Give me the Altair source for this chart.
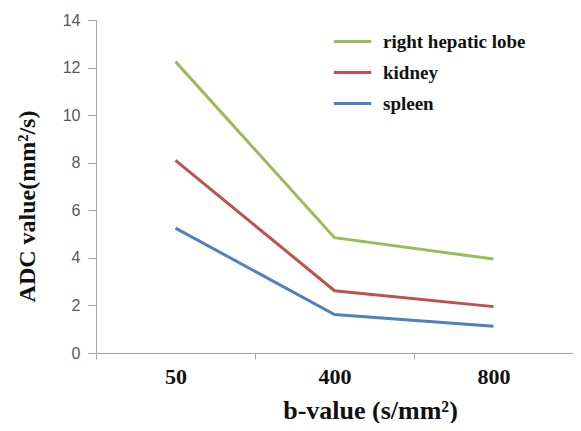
import altair as alt
import pandas as pd

b_values = ["50", "400", "800"]
series_names = ["right hepatic lobe", "kidney", "spleen"]
hepatic = [12.25, 4.85, 3.95]
kidney = [8.1, 2.62, 1.95]
spleen = [5.25, 1.62, 1.12]
colors = ["#9BBB59", "#C0504D", "#4F81BD"]

rows = []
for name, vals in zip(series_names, [hepatic, kidney, spleen]):
    for b, v in zip(b_values, vals):
        rows.append({"b": b, "adc": v, "tissue": name})
df = pd.DataFrame(rows)

chart = alt.Chart(df).mark_line(strokeWidth=3).encode(
    x=alt.X("b:N", sort=b_values,
            scale=alt.Scale(type="band", paddingInner=0, paddingOuter=0),
            axis=alt.Axis(title="b-value (s/mm²)", labelAngle=0, tickBand="extent",
                          labelFont="Liberation Serif", labelFontWeight="bold",
                          labelFontSize=22, labelColor="#111111", labelPadding=7,
                          titleFont="Liberation Serif", titleFontWeight="bold",
                          titleFontSize=26, titleColor="#111111",
                          titleX=274, titleY=57, titleAlign="center",
                          titleBaseline="middle",
                          domainColor="#A6A6A6", tickColor="#A6A6A6",
                          tickSize=6, grid=False)),
    y=alt.Y("adc:Q", scale=alt.Scale(domain=[0, 14], nice=False),
            axis=alt.Axis(title="ADC value(mm²/s)", values=list(range(0, 15, 2)),
                          labelFont="Liberation Sans", labelFontSize=16,
                          labelColor="#595959", labelPadding=8,
                          titleFont="Liberation Serif", titleFontWeight="bold",
                          titleFontSize=24, titleColor="#111111",
                          titleAngle=-90, titleX=-69, titleY=186,
                          titleAlign="center", titleBaseline="middle",
                          domainColor="#A6A6A6", tickColor="#A6A6A6",
                          tickSize=8, grid=False)),
    color=alt.Color("tissue:N",
                    scale=alt.Scale(domain=series_names, range=colors),
                    legend=alt.Legend(title=None, orient="none", legendX=236,
                                      legendY=1, symbolType="stroke",
                                      symbolSize=1400, symbolStrokeWidth=3,
                                      labelFont="Liberation Serif",
                                      labelFontWeight="bold", labelFontSize=19,
                                      labelColor="#111111", labelOffset=10,
                                      rowPadding=0)),
).properties(
    width=477, height=333,
    autosize=alt.AutoSizeParams(type="none"),
    padding={"left": 88, "top": 12, "right": 0, "bottom": 70},
).configure_view(stroke=None)

chart.save("out.html", embed_options={"renderer": "svg", "actions": False})
